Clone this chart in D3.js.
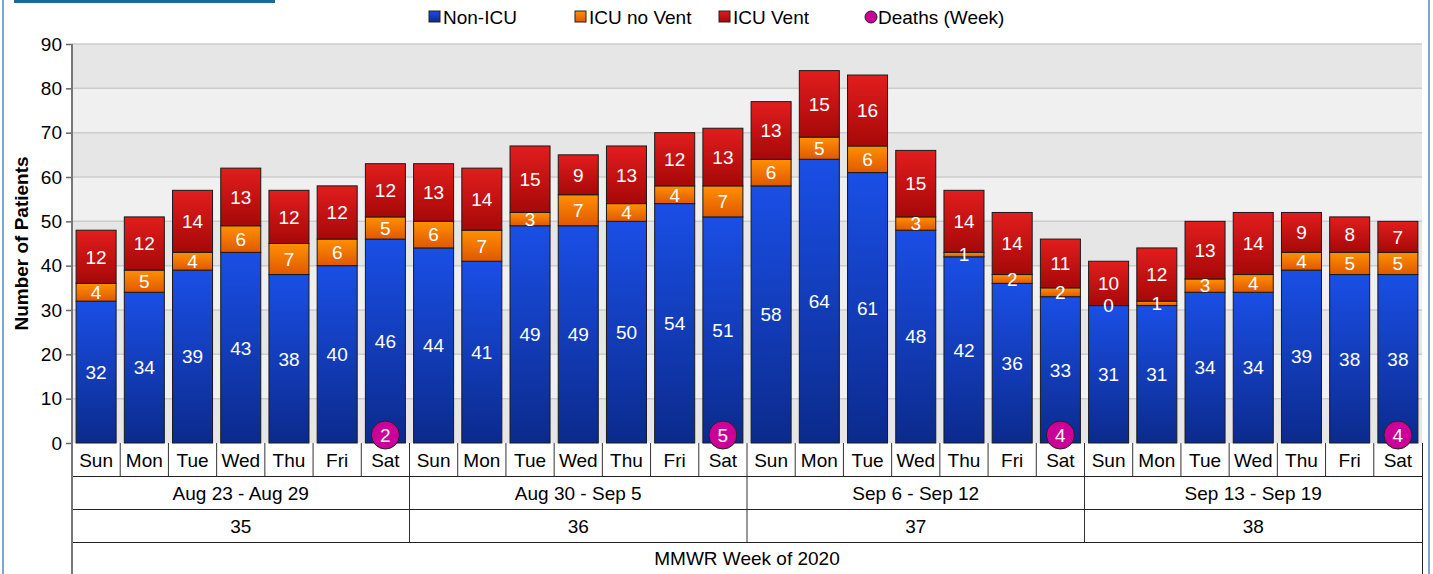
<!DOCTYPE html>
<html>
<head>
<meta charset="utf-8">
<script src="https://cdn.jsdelivr.net/npm/d3@7"></script>
<style>
  body { margin: 0; background: #fff; }
  svg { display: block; font-family: "Liberation Sans", Arial, sans-serif; }
</style>
</head>
<body>
<svg id="chart" width="1433" height="574"></svg>
<script>
// ---- data ----
var days = ["Sun", "Mon", "Tue", "Wed", "Thu", "Fri", "Sat"];
var weekRanges = ["Aug 23 - Aug 29", "Aug 30 - Sep 5", "Sep 6 - Sep 12", "Sep 13 - Sep 19"];
var weekNumbers = ["35", "36", "37", "38"];
var nonIcu   = [32, 34, 39, 43, 38, 40, 46,  44, 41, 49, 49, 50, 54, 51,  58, 64, 61, 48, 42, 36, 33,  31, 31, 34, 34, 39, 38, 38];
var icuNoVent = [4, 5, 4, 6, 7, 6, 5,  6, 7, 3, 7, 4, 4, 7,  6, 5, 6, 3, 1, 2, 2,  0, 1, 3, 4, 4, 5, 5];
var icuVent  = [12, 12, 14, 13, 12, 12, 12,  13, 14, 15, 9, 13, 12, 13,  13, 15, 16, 15, 14, 14, 11,  10, 12, 13, 14, 9, 8, 7];
var deathsWeek = [2, 5, 4, 4];
var yTicks = [0, 10, 20, 30, 40, 50, 60, 70, 80, 90];

var svg = d3.select("#chart");

// frame bits
svg.append("rect").attr("x", 2).attr("y", 0).attr("width", 2).attr("height", 574).attr("fill", "#7fa6cf");
svg.append("rect").attr("x", 1428).attr("y", 0).attr("width", 2).attr("height", 574).attr("fill", "#7fa6cf");
svg.append("rect").attr("x", 14).attr("y", 0).attr("width", 261).attr("height", 3).attr("fill", "#1b6a97");

var plotLeft = 72, plotRight = 1422, plotTop = 44, plotBottom = 443;

var idx = d3.range(nonIcu.length);
var x = d3.scaleBand().domain(idx).range([plotLeft, plotRight]).paddingInner(0.17).paddingOuter(0.085);
var cell = d3.scaleBand().domain(idx).range([plotLeft, plotRight]);
var y = d3.scaleLinear().domain([0, 90]).range([plotBottom, plotTop]);

// gradients
var defs = svg.append("defs");
function grad(id, c1, c2) {
  var g = defs.append("linearGradient").attr("id", id).attr("x1", 0).attr("y1", 0).attr("x2", 0).attr("y2", 1);
  g.append("stop").attr("offset", "0%").attr("stop-color", c1);
  g.append("stop").attr("offset", "100%").attr("stop-color", c2);
}
grad("gBlue", "#1a4fe6", "#0b2a8c");
grad("gOrange", "#ff9000", "#e05800");
grad("gRed", "#e21d1d", "#a60808");

// background bands
svg.append("g").selectAll("rect")
  .data(yTicks.slice(0, -1))
  .enter().append("rect")
  .attr("x", plotLeft).attr("width", plotRight - plotLeft)
  .attr("y", function(d) { return y(d + 10); })
  .attr("height", function(d) { return y(d) - y(d + 10); })
  .attr("fill", function(d) { return (d / 10) % 2 === 0 ? "#e6e6e6" : "#f0f0f0"; });

// grid lines
svg.append("g").selectAll("line")
  .data(yTicks.slice(1))
  .enter().append("line")
  .attr("x1", plotLeft).attr("x2", plotRight)
  .attr("y1", function(d) { return y(d); }).attr("y2", function(d) { return y(d); })
  .attr("stroke", "#cccccc").attr("stroke-width", 1.5);

// y axis
var yAxis = svg.append("g").attr("transform", "translate(" + plotLeft + ",0)")
  .call(d3.axisLeft(y).tickValues(yTicks).tickSize(6).tickPadding(4));
yAxis.select(".domain").remove();
yAxis.selectAll(".tick line").attr("stroke", "#666").attr("stroke-width", 1.5);
yAxis.selectAll(".tick text").attr("font-size", 19).attr("fill", "#000")
  .attr("font-family", "Liberation Sans, Arial, sans-serif");

svg.append("text")
  .attr("transform", "translate(28," + ((plotTop + plotBottom) / 2) + ") rotate(-90)")
  .attr("text-anchor", "middle").attr("font-size", 19).attr("font-weight", "bold")
  .text("Number of Patients");

// stacked bars
var rows = idx.map(function(i) { return { i: i, nonIcu: nonIcu[i], icuNoVent: icuNoVent[i], icuVent: icuVent[i] }; });
var keys = ["nonIcu", "icuNoVent", "icuVent"];
var fills = { nonIcu: "url(#gBlue)", icuNoVent: "url(#gOrange)", icuVent: "url(#gRed)" };
var stacked = d3.stack().keys(keys)(rows);

var layers = svg.append("g").selectAll("g")
  .data(stacked)
  .enter().append("g")
  .attr("fill", function(s) { return fills[s.key]; });

layers.selectAll("rect")
  .data(function(s) { return s; })
  .enter().append("rect")
  .attr("x", function(d) { return x(d.data.i); })
  .attr("width", x.bandwidth())
  .attr("y", function(d) { return y(d[1]); })
  .attr("height", function(d) { return y(d[0]) - y(d[1]); })
  .attr("stroke", "#1a1a1a").attr("stroke-width", 1);

// value labels
var labels = svg.append("g").attr("font-size", 19).attr("fill", "#fff").attr("text-anchor", "middle");
stacked.forEach(function(s) {
  labels.selectAll(null)
    .data(s)
    .enter().append("text")
    .attr("x", function(d) { return x(d.data.i) + x.bandwidth() / 2; })
    .attr("y", function(d) { return (y(d[0]) + y(d[1])) / 2; })
    .attr("dy", "0.36em")
    .text(function(d) { return d[1] - d[0]; });
});

// category table
var table = svg.append("g");
var rowY = [443, 476, 509, 542, 574];
table.selectAll("text.day")
  .data(idx)
  .enter().append("text").attr("class", "day")
  .attr("x", function(i) { return cell(i) + cell.bandwidth() / 2; })
  .attr("y", 467).attr("text-anchor", "middle").attr("font-size", 19)
  .text(function(i) { return days[i % 7]; });
table.selectAll("line.dsep")
  .data(idx.slice(1))
  .enter().append("line").attr("class", "dsep")
  .attr("x1", function(i) { return cell(i); }).attr("x2", function(i) { return cell(i); })
  .attr("y1", rowY[0]).attr("y2", rowY[1])
  .attr("stroke", "#333").attr("stroke-width", 1);
table.selectAll("line.wsep")
  .data([7, 14, 21])
  .enter().append("line").attr("class", "wsep")
  .attr("x1", function(i) { return cell(i); }).attr("x2", function(i) { return cell(i); })
  .attr("y1", rowY[1]).attr("y2", rowY[3])
  .attr("stroke", "#333").attr("stroke-width", 1);
table.selectAll("text.wr")
  .data(weekRanges)
  .enter().append("text").attr("class", "wr")
  .attr("x", function(d, w) { return cell(w * 7) + cell.bandwidth() * 3.5; })
  .attr("y", 500).attr("text-anchor", "middle").attr("font-size", 19)
  .text(function(d) { return d; });
table.selectAll("text.wn")
  .data(weekNumbers)
  .enter().append("text").attr("class", "wn")
  .attr("x", function(d, w) { return cell(w * 7) + cell.bandwidth() * 3.5; })
  .attr("y", 533).attr("text-anchor", "middle").attr("font-size", 19)
  .text(function(d) { return d; });
table.append("text")
  .attr("x", (plotLeft + plotRight) / 2).attr("y", 565).attr("text-anchor", "middle").attr("font-size", 19)
  .text("MMWR Week of 2020");
table.selectAll("line.h")
  .data(rowY.slice(1, 4))
  .enter().append("line").attr("class", "h")
  .attr("x1", plotLeft).attr("x2", plotRight)
  .attr("y1", function(d) { return d + 0.5; }).attr("y2", function(d) { return d + 0.5; })
  .attr("stroke", "#222").attr("stroke-width", 1);
table.append("line").attr("x1", plotRight + 0.5).attr("x2", plotRight + 0.5).attr("y1", rowY[0]).attr("y2", 574)
  .attr("stroke", "#222");
svg.append("line").attr("x1", plotLeft).attr("x2", plotLeft).attr("y1", plotTop).attr("y2", 574)
  .attr("stroke", "#777").attr("stroke-width", 2);

// deaths markers at Saturday of each week
var dg = svg.append("g").selectAll("g")
  .data(deathsWeek)
  .enter().append("g")
  .attr("transform", function(d, w) { return "translate(" + (x(w * 7 + 6) + x.bandwidth() / 2) + "," + (y(0) - 8) + ")"; });
dg.append("circle").attr("r", 14).attr("fill", "#cc0099").attr("stroke", "#222").attr("stroke-width", 1);
dg.append("text").attr("text-anchor", "middle").attr("dy", "0.36em").attr("font-size", 19).attr("fill", "#fff")
  .text(function(d) { return d; });

// legend
var legendItems = [
  { label: "Non-ICU", fill: "url(#gBlue)", x: 429, shape: "rect" },
  { label: "ICU no Vent", fill: "url(#gOrange)", x: 575, shape: "rect" },
  { label: "ICU Vent", fill: "url(#gRed)", x: 719, shape: "rect" },
  { label: "Deaths (Week)", fill: "#cc0099", x: 864, shape: "circle" }
];
var lg = svg.append("g").selectAll("g")
  .data(legendItems)
  .enter().append("g")
  .attr("transform", function(d) { return "translate(" + d.x + ",0)"; });
lg.each(function(d) {
  var g = d3.select(this);
  if (d.shape === "rect") {
    g.append("rect").attr("x", 0).attr("y", 11).attr("width", 11).attr("height", 11)
      .attr("fill", d.fill).attr("stroke", "#222").attr("stroke-width", 1);
  } else {
    g.append("circle").attr("cx", 7).attr("cy", 17).attr("r", 6)
      .attr("fill", d.fill).attr("stroke", "#222").attr("stroke-width", 1);
  }
  g.append("text").attr("x", 14).attr("y", 24).attr("font-size", 19).text(d.label);
});
</script>
</body>
</html>
